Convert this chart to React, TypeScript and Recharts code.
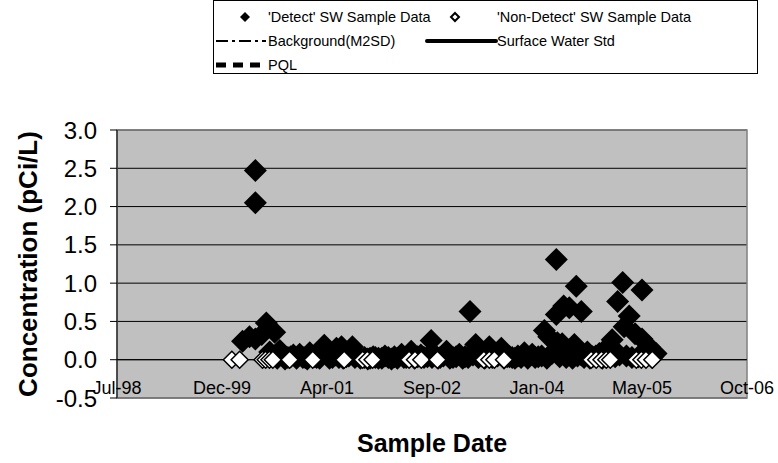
import React from "react";
import {
  CartesianGrid,
  Label,
  ReferenceArea,
  ReferenceLine,
  Scatter,
  ScatterChart,
  XAxis,
  YAxis,
} from "recharts";

const FONT = '"Liberation Sans", Arial, Helvetica, sans-serif';

// sample dates / results
const detectDates = [
  "2000-03-13", "2000-04-15", "2000-05-13", "2000-05-13", "2000-05-13", "2000-06-12",
  "2000-07-04", "2000-07-20", "2000-08-13", "2000-08-25", "2000-09-06", "2000-09-25",
  "2000-10-01", "2000-10-15", "2000-10-28", "2000-11-10", "2000-11-25", "2000-12-10",
  "2000-12-25", "2001-01-05", "2001-01-15", "2001-01-27", "2001-02-05", "2001-02-20",
  "2001-03-01", "2001-03-15", "2001-03-25", "2001-04-06", "2001-04-25", "2001-05-01",
  "2001-05-15", "2001-05-28", "2001-06-03", "2001-06-15", "2001-06-27", "2001-07-05",
  "2001-07-20", "2001-08-01", "2001-08-18", "2001-08-30", "2001-09-10", "2001-09-25",
  "2001-10-15", "2001-10-30", "2001-11-10", "2001-11-25", "2001-12-05", "2001-12-20",
  "2002-01-05", "2002-01-20", "2002-02-05", "2002-02-20", "2002-03-06", "2002-03-20",
  "2002-04-09", "2002-04-20", "2002-05-01", "2002-05-12", "2002-05-25", "2002-06-10",
  "2002-06-25", "2002-07-10", "2002-07-25", "2002-08-10", "2002-08-28", "2002-09-01",
  "2002-09-15", "2002-09-30", "2002-10-10", "2002-10-25", "2002-11-09", "2002-11-25",
  "2002-12-10", "2002-12-25", "2003-01-09", "2003-01-25", "2003-02-05", "2003-02-20",
  "2003-03-01", "2003-03-15", "2003-03-28", "2003-04-10", "2003-04-25", "2003-05-10",
  "2003-05-20", "2003-06-01", "2003-06-15", "2003-06-28", "2003-07-10", "2003-07-28",
  "2003-08-10", "2003-08-25", "2003-09-05", "2003-09-18", "2003-10-01", "2003-10-15",
  "2003-10-30", "2003-11-15", "2003-12-01", "2003-12-22", "2004-01-05", "2004-01-20",
  "2004-02-05", "2004-02-18", "2004-03-01", "2004-03-10", "2004-03-25", "2004-04-15",
  "2004-04-15", "2004-04-20", "2004-05-01", "2004-05-13", "2004-05-20", "2004-06-01",
  "2004-06-16", "2004-06-16", "2004-07-01", "2004-07-10", "2004-07-19", "2004-07-25",
  "2004-08-12", "2004-08-12", "2004-08-25", "2004-09-10", "2004-09-22", "2004-10-05",
  "2004-10-20", "2004-11-06", "2004-11-20", "2004-12-05", "2004-12-20", "2005-01-06",
  "2005-01-20", "2005-02-01", "2005-02-10", "2005-02-25", "2005-03-04", "2005-03-15",
  "2005-03-28", "2005-04-10", "2005-04-25", "2005-05-10", "2005-05-28", "2005-05-28",
  "2005-06-15", "2005-07-01", "2005-07-15", "2005-08-03",
];
const detectValues = [
  0.24, 0.3, 2.47, 2.05, 0.27, 0.33,
  0.48, 0.1, 0.36, 0.02, 0.12, 0.05,
  0.01, 0.03, 0.04, 0.06, 0.02, 0.07,
  0.03, 0.03, 0.01, 0.09, 0.05, 0.04,
  0.03, 0.02, 0.08, 0.19, 0.05, 0.02,
  0.03, 0.06, 0.15, 0.03, 0.17, 0.02,
  0.04, 0.05, 0.17, 0.03, 0.06, 0.02,
  0.03, 0.01, 0.02, 0.04, 0.03, 0.02,
  0.02, 0.05, 0.03, 0.01, 0.04, 0.02,
  0.07, 0.03, 0.03, 0.05, 0.11, 0.02,
  0.04, 0.06, 0.03, 0.04, 0.25, 0.03,
  0.06, 0.02, 0.03, 0.05, 0.11, 0.02,
  0.03, 0.04, 0.07, 0.02, 0.04, 0.03,
  0.63, 0.06, 0.2, 0.03, 0.05, 0.02,
  0.08, 0.17, 0.03, 0.04, 0.05, 0.15,
  0.02, 0.04, 0.04, 0.03, 0.02, 0.05,
  0.03, 0.09, 0.02, 0.07, 0.03, 0.04,
  0.05, 0.38, 0.02, 0.3, 0.08, 1.31,
  0.59, 0.22, 0.04, 0.21, 0.7, 0.03,
  0.68, 0.13, 0.02, 0.2, 0.96, 0.05,
  0.63, 0.06, 0.03, 0.1, 0.02, 0.04,
  0.05, 0.08, 0.02, 0.05, 0.18, 0.26,
  0.04, 0.76, 0.06, 1.01, 0.43, 0.05,
  0.57, 0.03, 0.34, 0.04, 0.91, 0.27,
  0.06, 0.17, 0.03, 0.08,
];

const nonDetectDates = [
  "2000-01-22", "2000-02-28", "2000-06-16", "2000-07-01", "2000-07-19", "2000-08-04",
  "2000-10-23", "2001-02-10", "2001-07-10", "2001-10-06", "2001-10-28", "2001-11-22",
  "2002-05-15", "2002-06-12", "2002-07-12", "2002-09-27", "2003-05-06", "2003-06-01",
  "2003-06-25", "2003-08-10", "2004-09-28", "2004-10-22", "2004-11-16", "2004-12-09",
  "2004-12-28", "2005-05-01", "2005-05-25", "2005-06-16", "2005-07-16",
];
const nonDetectValues = [
  0, 0, 0, 0, 0, 0,
  0, 0, 0, 0, 0, 0,
  0, 0, 0, 0, 0, 0,
  0, 0, 0, 0, 0, 0,
  0, 0, 0, 0, 0,
];

// excel style date axis (serial days), 500 day major unit
const xTicks = [36000, 36500, 37000, 37500, 38000, 38500, 39000];
const yTicks = [-0.5, 0, 0.5, 1, 1.5, 2, 2.5, 3];

const MONTHS = ["Jan", "Feb", "Mar", "Apr", "May", "Jun", "Jul", "Aug", "Sep", "Oct", "Nov", "Dec"];
const EPOCH = Date.UTC(1899, 11, 30);
const DAY = 86400000;

const toSerial = (iso: string) => (Date.parse(iso) - EPOCH) / DAY;
const fmtSerial = (s: number) => {
  const d = new Date(EPOCH + s * DAY);
  return `${MONTHS[d.getUTCMonth()]}-${String(d.getUTCFullYear()).slice(2)}`;
};

const detectData = detectDates.map((d, i) => ({ date: toSerial(d), value: detectValues[i] }));
const nonDetectData = nonDetectDates.map((d, i) => ({ date: toSerial(d), value: nonDetectValues[i] }));

function diamond(cx: number, cy: number, r: number) {
  return `${cx},${cy - r} ${cx + r},${cy} ${cx},${cy + r} ${cx - r},${cy}`;
}

const DetectMark = (props: any) => (
  <polygon points={diamond(props.cx, props.cy, 11.5)} fill="#000" />
);

const NonDetectMark = (props: any) => (
  <polygon points={diamond(props.cx, props.cy, 8.5)} fill="#fff" stroke="#000" strokeWidth={1.5} />
);

const XTick = ({ x, y, payload }: any) => (
  <text x={x} y={y} dy={-4} textAnchor="middle" fontSize={18} fill="#000" fontFamily={FONT}>
    {fmtSerial(payload.value)}
  </text>
);

const YTitle = ({ viewBox }: any) => {
  const cy = viewBox.y + viewBox.height / 2;
  return (
    <text
      x={37}
      y={cy}
      transform={`rotate(-90, 37, ${cy})`}
      textAnchor="middle"
      fontSize={26}
      fontWeight="bold"
      fill="#000"
      fontFamily={FONT}
    >
      Concentration (pCi/L)
    </text>
  );
};

const XTitle = ({ viewBox }: any) => (
  <text
    x={viewBox.x + viewBox.width / 2}
    y={452}
    textAnchor="middle"
    fontSize={25}
    fontWeight="bold"
    fill="#000"
    fontFamily={FONT}
  >
    Sample Date
  </text>
);

function ChartLegend() {
  const t = { fontSize: 14.5, fontFamily: FONT, fill: "#000" };
  return (
    <svg
      width={545}
      height={74}
      style={{ position: "absolute", left: 213, top: 0 }}
    >
      <rect x={0.5} y={0.5} width={544} height={73} fill="#fff" stroke="#000" />
      <polygon points={diamond(32, 17, 5)} fill="#000" />
      <text x={55} y={22} {...t}>'Detect' SW Sample Data</text>
      <polygon points={diamond(242, 17, 4)} fill="#fff" stroke="#000" strokeWidth={2} />
      <text x={284} y={22} {...t}>'Non-Detect' SW Sample Data</text>

      <line x1={3} y1={41} x2={53} y2={41} stroke="#000" strokeWidth={2} strokeDasharray="12 4 3 4" />
      <text x={55} y={46} {...t}>Background(M2SD)</text>
      <line x1={214} y1={41} x2={283} y2={41} stroke="#000" strokeWidth={4} strokeLinecap="round" />
      <text x={284} y={46} {...t}>Surface Water Std</text>

      <line x1={3} y1={65} x2={53} y2={65} stroke="#000" strokeWidth={5} strokeDasharray="10 7" />
      <text x={55} y={70} {...t}>PQL</text>
    </svg>
  );
}

export default function App() {
  return (
    <div
      style={{
        position: "absolute",
        left: 0,
        top: 0,
        width: 778,
        height: 463,
        background: "#fff",
        fontFamily: FONT,
      }}
    >
      <ChartLegend />
      <ScatterChart
        width={778}
        height={463}
        margin={{ top: 130, right: 31, bottom: 0, left: 0 }}
        style={{ fontFamily: FONT }}
      >
        <CartesianGrid vertical={false} stroke="#000" fill="#C0C0C0" fillOpacity={1} />
        <ReferenceArea x1={36000} x2={39000} y1={-0.5} y2={3} fill="none" stroke="#808080" strokeWidth={1.5} />
        <XAxis
          type="number"
          dataKey="date"
          domain={[36000, 39000]}
          ticks={xTicks}
          allowDataOverflow
          axisLine={false}
          tickLine={false}
          tickSize={0}
          tickMargin={0}
          height={65}
          tick={<XTick />}
        >
          <Label content={<XTitle />} />
        </XAxis>
        <YAxis
          type="number"
          dataKey="value"
          domain={[-0.5, 3]}
          ticks={yTicks}
          allowDataOverflow
          width={117}
          tickFormatter={(v: number) => v.toFixed(1)}
          axisLine={{ stroke: "#000" }}
          tickLine={{ stroke: "#000" }}
          tickSize={7}
          tickMargin={13}
          tick={{ fontSize: 24, fill: "#000", fontFamily: FONT }}
        >
          <Label content={<YTitle />} />
        </YAxis>
        <ReferenceLine y={0} stroke="#000" />
        <Scatter
          name="'Detect' SW Sample Data"
          data={detectData}
          shape={<DetectMark />}
          isAnimationActive={false}
        />
        <Scatter
          name="'Non-Detect' SW Sample Data"
          data={nonDetectData}
          shape={<NonDetectMark />}
          isAnimationActive={false}
        />
      </ScatterChart>
    </div>
  );
}
